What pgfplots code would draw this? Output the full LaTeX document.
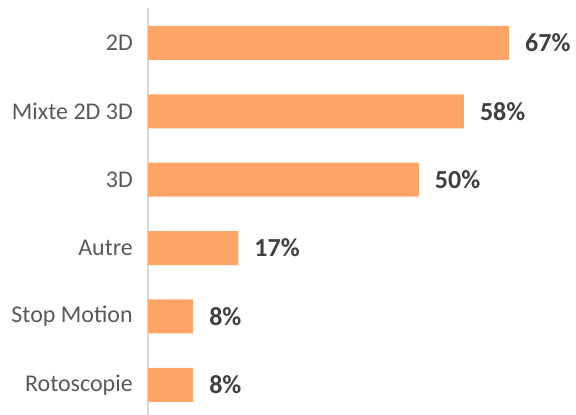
\documentclass[border=0pt]{standalone}
\usepackage{pgfplots}
\pgfplotsset{compat=1.18}
\usepackage{fontspec}
\setmainfont{Carlito}
\definecolor{barorange}{HTML}{FFA567}
\definecolor{labgray}{HTML}{595959}
\definecolor{valgray}{HTML}{404040}
\definecolor{axgray}{HTML}{D9D9D9}

\begin{document}
\begin{tikzpicture}
	\begin{axis}[
		at={(148bp,0bp)}, anchor=south west,
		scale only axis, width=428bp, height=407bp,
		xbar, bar width=34bp,
		xmin=0, xmax=79.04, ymin=-0.44, ymax=5.51,
		hide x axis,
		axis y line*=left,
		y axis line style={draw=axgray, line width=1.5bp},
		ytick={0,...,5},
		yticklabels={Rotoscopie, Stop Motion, Autre, 3D, Mixte 2D 3D, 2D},
		major tick length=0pt,
		yticklabel style={font=\fontsize{24bp}{28bp}\selectfont, text=labgray, inner sep=0pt, xshift=-15bp},
		/pgf/number format/assume math mode=true,
		nodes near coords={\pgfmathprintnumber[fixed, precision=0]{\pgfplotspointmeta}\%},
		every node near coord/.append style={font=\fontsize{26bp}{30bp}\selectfont\bfseries, text=valgray, anchor=west, inner sep=0pt, xshift=16bp},
		clip=false,
	]
		% shares out of 12 answers
		\addplot[fill=barorange, draw=none] coordinates {
			(8.33,0) (8.33,1) (16.67,2) (50,3) (58.33,4) (66.67,5)
		};
	\end{axis}
	\pgfresetboundingbox
	\useasboundingbox (0,0) rectangle (576bp,415bp);
\end{tikzpicture}
\end{document}
